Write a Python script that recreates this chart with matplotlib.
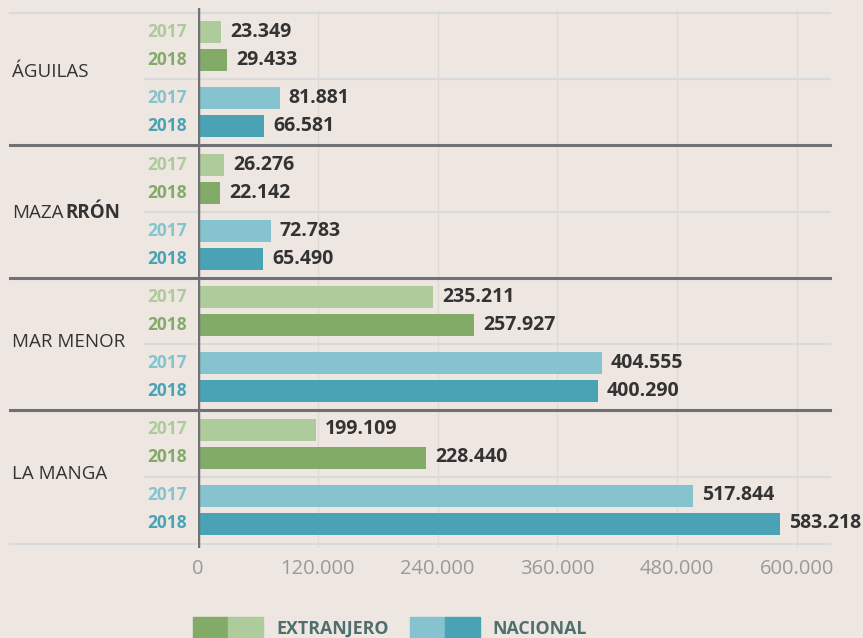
import matplotlib
matplotlib.use("Agg")
import matplotlib.pyplot as plt
from matplotlib.patches import Rectangle

# ----------- DATA -----------
regions = ["ÁGUILAS", "MAZARRÓN", "MAR MENOR", "LA MANGA"]
years = ["2017", "2018", "2017", "2018"]
# values printed next to the bars
extranjero_2017 = [23349, 26276, 235211, 199109]
extranjero_2018 = [29433, 22142, 257927, 228440]
nacional_2017 = [81881, 72783, 404555, 517844]
nacional_2018 = [66581, 65490, 400290, 583218]
# bar lengths as drawn in the original (a few don't match their labels)
ext17_bar = [23349, 26276, 235211, 118200]
ext18_bar = [29433, 22142, 276500, 228440]
nac17_bar = [81881, 72783, 404555, 495800]
nac18_bar = [66581, 65490, 400290, 583218]
xticks = [0, 120000, 240000, 360000, 480000, 600000]
legend_labels = ["EXTRANJERO", "NACIONAL"]

# ----------- STYLE -----------
BG = "#ede6e1"
C_EXT17 = "#aecb9b"
C_EXT18 = "#82ab68"
C_NAC17 = "#85c3cf"
C_NAC18 = "#4aa3b5"
TXT = "#333333"
LIGHT = "#d8dadb"
DARK = "#6f7174"
FONT = "Open Sans"

W, H = 863, 638
fig = plt.figure(figsize=(W / 100, H / 100), dpi=100, facecolor=BG)
ax_left, ax_right, ax_top, ax_bot = 198, 830, 8, 548
ax = fig.add_axes([ax_left / W, (H - ax_bot) / H, (ax_right - ax_left) / W, (ax_bot - ax_top) / H])
ax.set_facecolor(BG)
ax.set_xlim(0, 600000 * (ax_right - ax_left) / 599)
ax.set_ylim(ax_bot, ax_top)   # y in pixel rows
for s in ax.spines.values():
    s.set_visible(False)
ax.set_yticks([])

def px(x):
    return (x - ax_left) / (ax_right - ax_left)

def fmt(v):
    return f"{v:,}".replace(",", ".")

# layout of rows (pixel rows)
first_row, group_pitch = 32, 132.5
offsets = [0, 28, 66, 94]
label_dy = [40, 49, 45, 44.5]   # region name placement within each block
bar_h = 22

labels = [extranjero_2017, extranjero_2018, nacional_2017, nacional_2018]
bars = [ext17_bar, ext18_bar, nac17_bar, nac18_bar]
colors = [C_EXT17, C_EXT18, C_NAC17, C_NAC18]

# grid
for t in xticks[1:]:
    ax.axvline(t, ymin=0, ymax=0.995, color="#dedad6", lw=1.0, zorder=0)
ax.axhline(13, xmin=px(10), xmax=px(830), color=LIGHT, lw=1.5, clip_on=False, zorder=0)
ax.axhline(544, xmin=px(10), xmax=px(830), color=LIGHT, lw=1.5, clip_on=False, zorder=0)

for i, reg in enumerate(regions):
    g0 = first_row + i * group_pitch
    for j in range(4):
        y = g0 + offsets[j]
        b = bars[j][i]
        ax.barh(y, b, height=bar_h, color=colors[j], zorder=2)
        ax.annotate(fmt(labels[j][i]), (b, y), xytext=(6.5, 0), textcoords="offset points",
                    ha="left", va="center", fontsize=14, fontweight="bold", color=TXT, family=FONT)
        ax.annotate(years[j], (0, y), xytext=(-8, 0), textcoords="offset points",
                    ha="right", va="center", fontsize=12.5, fontweight="bold", color=colors[j], family=FONT)
    # light separator between extranjero and nacional
    ax.axhline(g0 + 47, xmin=px(145), xmax=px(830), color=LIGHT, lw=1.5, clip_on=False, zorder=1)
    if i < len(regions) - 1:
        ax.axhline(g0 + 113, xmin=px(10), xmax=px(830), color=DARK, lw=2.2, clip_on=False, zorder=1)
    ymid = g0 + label_dy[i]
    if reg == "MAZARRÓN":
        t1 = ax.text(px(12), ymid, "MAZA", transform=ax.get_yaxis_transform(), ha="left", va="center",
                     fontsize=13.5, color=TXT, family=FONT)
        ax.annotate("RRÓN", xy=(1, 0.5), xycoords=t1, xytext=(1, 0), textcoords="offset points",
                    ha="left", va="center", fontsize=13.5, fontweight="bold", color=TXT, family=FONT)
    else:
        ax.text(px(12), ymid, reg, transform=ax.get_yaxis_transform(), ha="left", va="center",
                fontsize=13.5, color=TXT, family=FONT)

# zero line
ax.axvline(0, color=DARK, lw=2.5, zorder=3)

ax.set_xticks(xticks)
ax.set_xticklabels([fmt(t) for t in xticks], fontsize=14.5, color="#9a9a9a", family=FONT)
ax.tick_params(axis="x", length=0, pad=8)

# legend
sq_w, sq_h, sq_y = 35, 21, 617
for x0, cols in [(193, [C_EXT18, C_EXT17]), (410, [C_NAC17, C_NAC18])]:
    for k, c in enumerate(cols):
        fig.patches.append(Rectangle(((x0 + k * sq_w) / W, (H - sq_y - sq_h) / H), sq_w / W, sq_h / H,
                                     transform=fig.transFigure, color=c))
fig.text(276 / W, (H - 629) / H, legend_labels[0], ha="left", va="center", fontsize=12.8,
         fontweight="bold", color="#4f6e6e", family=FONT)
fig.text(492 / W, (H - 629) / H, legend_labels[1], ha="left", va="center", fontsize=12.8,
         fontweight="bold", color="#4f6e6e", family=FONT)

fig.savefig("out.png", dpi=100, facecolor=BG)
